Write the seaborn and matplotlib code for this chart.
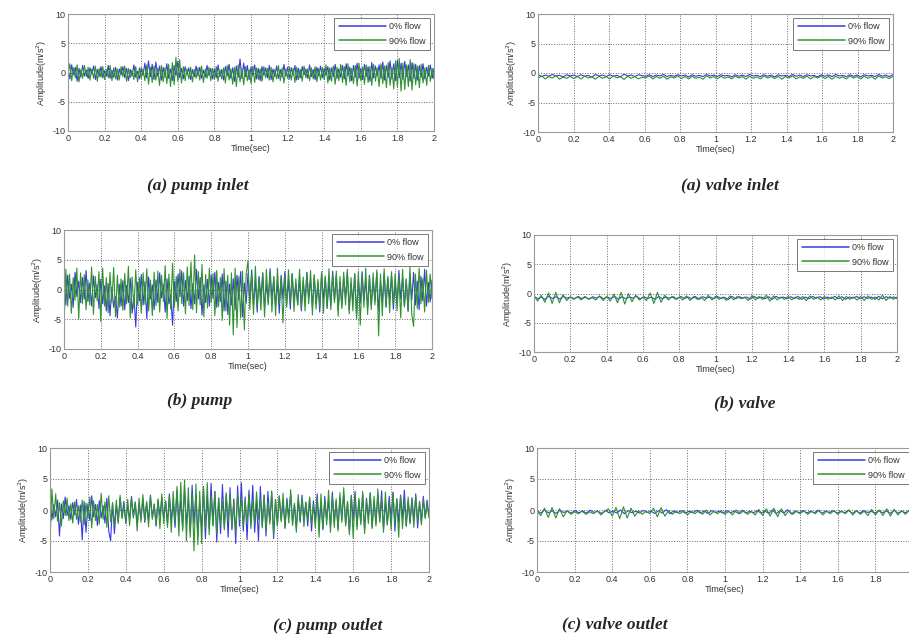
import numpy as np
import pandas as pd
import matplotlib
matplotlib.use("Agg")
import matplotlib.pyplot as plt
import seaborn as sns

series_labels = ["0% flow", "90% flow"]
series_colors = ["#3a3ae0", "#2f932f"]
panel_titles = ["(a) pump inlet", "(a) valve inlet", "(b) pump", "(b) valve",
                "(c) pump outlet", "(c) valve outlet"]

# Acceleration amplitudes (m/s^2), evenly sampled over 0-2 sec
pump_inlet_0 = [
    0.6, -1.1, 1.3, -0.4, 0.9, -1.5, 0.7, -0.8, 1.2, -0.6, 0.4,
    -1.0, 0.8, -0.3, 1.1, -1.2, 0.5, -0.7, 1.0, -0.9, 0.3,
    -0.6, 1.2, -1.0, 0.4, -0.8, 0.9, -1.3, 0.6, -0.4, 1.0,
    -0.9, 0.7, -1.4, 0.5, -0.6, 1.3, -0.8, 0.2, -1.1, 0.8,
    -0.5, 1.6, -0.9, 2.0, -0.7, 1.4, -1.2, 1.8, -0.6, 1.1,
    -1.3, 0.9, -0.8, 1.5, -1.0, 0.6, -1.4, 1.2, -0.5, 1.9,
    -0.9, 0.7, -1.1, 1.0, -0.4, 0.8, -1.2, 0.5, -0.7, 1.1,
    -0.6, 0.9, -1.0, 0.4, -0.8, 1.2, -0.5, 0.7, -1.1, 0.6,
    -0.9, 1.3, -0.7, 0.5, -1.3, 1.0, -0.6, 1.4, -1.0, 0.8,
    -1.5, 1.1, -0.8, 2.3, -1.0, 1.6, -0.7, 1.2, -1.2, 0.9,
    -0.6, 1.3, -1.1, 0.7, -1.4, 1.0, -0.5, 0.8, -0.9, 1.2,
    -1.2, 0.6, -0.7, 1.1, -1.0, 0.5, -0.8, 1.4, -0.6, 0.9,
    -1.1, 0.8, -0.5, 1.2, -1.3, 0.7, -0.9, 1.0, -0.4, 0.6,
    -1.0, 1.3, -0.7, 0.5, -1.2, 0.9, -0.6, 1.1, -0.9, 0.7,
    -0.5, 1.0, -1.3, 0.8, -0.7, 1.4, -1.0, 0.6, -0.8, 1.2,
    -1.1, 1.5, -0.6, 0.9, -1.4, 1.2, -0.8, 1.6, -1.0, 0.7,
    -1.2, 1.4, -0.7, 1.0, -1.5, 1.7, -0.9, 1.1, -0.6, 1.3,
    -1.0, 1.8, -1.3, 1.2, -0.8, 2.0, -1.1, 1.5, -1.4, 2.1,
    -0.9, 1.6, -1.2, 1.9, -0.7, 1.3, -1.5, 1.7, -1.0, 1.4,
    -1.3, 1.2, -0.8, 1.5, -1.1, 0.9, -0.6, 1.3, -1.0, 0.7,
]
pump_inlet_90 = [
    -0.4, 1.5, -1.4, 0.8, -0.9, 1.3, -1.6, 0.5, -1.0, 1.2, -0.7,
    0.9, -1.3, 0.6, -1.0, 1.1, -1.5, 0.7, -0.8, 1.0, -1.2,
    0.5, -0.9, 1.2, -1.4, 0.8, -1.1, 0.6, -1.3, 1.0, -0.7,
    1.1, -1.5, 0.7, -0.9, 0.4, -1.2, 1.0, -1.6, 0.8, -1.0,
    0.6, -1.4, 1.3, -2.0, 0.9, -1.7, 1.1, -1.3, 0.7, -2.2,
    1.2, -1.6, 0.8, -1.9, 1.4, -2.4, 1.7, -2.1, 2.6, -1.5,
    2.2, -1.8, 1.0, -1.4, 0.6, -1.1, 0.9, -1.6, 0.5, -1.0,
    0.8, -1.3, 1.1, -1.7, 0.6, -1.0, 0.9, -1.4, 0.7, -1.2,
    1.0, -1.5, 0.5, -1.1, 0.8, -1.8, 1.2, -1.3, 0.6, -2.0,
    0.9, -2.4, 1.3, -1.6, 0.7, -2.1, 1.0, -1.4, 0.5, -1.9,
    1.1, -1.7, 0.8, -1.2, 0.6, -1.5, 1.0, -0.9, 0.7, -1.3,
    0.9, -1.6, 0.5, -1.1, 1.2, -1.4, 0.8, -1.8, 0.6, -1.0,
    1.0, -1.3, 0.7, -1.7, 0.9, -1.2, 0.5, -1.5, 1.1, -0.9,
    0.6, -1.4, 0.8, -1.1, 1.0, -1.6, 0.7, -1.3, 0.9, -1.2,
    1.3, -1.8, 0.8, -1.5, 1.1, -2.0, 0.9, -1.4, 1.4, -1.7,
    1.0, -2.2, 1.5, -1.6, 0.7, -1.9, 1.2, -2.3, 1.6, -1.4,
    0.9, -2.0, 1.3, -1.7, 1.0, -2.2, 1.4, -1.5, 0.8, -2.4,
    1.5, -1.9, 1.1, -2.6, 1.7, -2.2, 0.9, -2.8, 2.0, -2.5,
    2.4, -3.2, 1.6, -2.9, 1.3, -2.4, 2.2, -3.0, 1.5, -2.1,
    1.1, -2.6, 1.4, -1.8, 0.8, -2.2, 1.2, -1.5, 0.7, -1.1,
]
valve_inlet_0 = [
    -0.3, -0.6, -0.35, -0.55, -0.25, -0.5, -0.4, -0.65, -0.3, -0.5, -0.35,
    -0.6, -0.3, -0.55, -0.4, -0.7, -0.25, -0.5, -0.35, -0.6,
    -0.3, -0.55, -0.4, -0.65, -0.2, -0.5, -0.35, -0.6, -0.3, -0.45,
    -0.55, -0.3, -0.6, -0.35, -0.5, -0.25, -0.6, -0.4, -0.55, -0.3,
    -0.5, -0.35, -0.65, -0.3, -0.55, -0.4, -0.6, -0.25, -0.5, -0.35,
    -0.6, -0.3, -0.5, -0.4, -0.65, -0.3, -0.55, -0.35, -0.6, -0.25,
    -0.5, -0.4, -0.6, -0.3, -0.55, -0.35, -0.65, -0.3, -0.5, -0.4,
    -0.6, -0.25, -0.55, -0.35, -0.6, -0.3, -0.5, -0.4, -0.65, -0.3,
    -0.55, -0.35, -0.6, -0.25, -0.5, -0.4, -0.6, -0.3, -0.55, -0.35,
    -0.65, -0.3, -0.5, -0.4, -0.6, -0.25, -0.55, -0.35, -0.6, -0.3,
]
valve_inlet_90 = [
    -0.9, -0.5, -1.0, -0.6, -0.85, -0.45, -1.05, -0.7, -0.9, -0.55, -0.95,
    -0.6, -1.0, -0.5, -0.85, -0.65, -1.05, -0.55, -0.9, -0.6,
    -1.0, -0.5, -0.8, -0.65, -1.1, -0.55, -0.9, -0.6, -1.0, -0.7,
    -0.85, -0.5, -1.0, -0.6, -0.9, -0.55, -1.05, -0.65, -0.85, -0.5,
    -0.95, -0.6, -1.0, -0.55, -0.9, -0.7, -1.05, -0.5, -0.85, -0.6,
    -1.0, -0.55, -0.9, -0.65, -1.0, -0.5, -0.85, -0.6, -1.05, -0.55,
    -0.9, -0.65, -1.0, -0.5, -0.85, -0.6, -0.95, -0.55, -1.05, -0.6,
    -0.85, -0.5, -1.0, -0.65, -0.9, -0.55, -1.0, -0.6, -0.85, -0.5,
    -0.95, -0.6, -1.05, -0.55, -0.9, -0.65, -1.0, -0.5, -0.85, -0.6,
    -1.0, -0.55, -0.9, -0.6, -1.05, -0.5, -0.85, -0.65, -0.95, -0.55,
]
pump_0 = [
    1.8, -2.6, 2.4, -1.5, 0.9, -3.0, 2.9, -1.2, 1.4, -2.2, 2.0,
    -1.6, 3.2, -2.0, 1.1, -2.8, 2.3, -1.4, 0.8, -3.2, 1.7,
    -2.4, 0.6, -3.6, 1.0, -4.4, 0.4, -3.0, -1.2, -4.8, 0.9,
    -2.8, 1.5, -3.4, 0.7, -2.2, 1.9, -4.0, -1.0, -6.3, 1.2,
    -1.9, 2.5, -2.6, 1.3, -4.9, 2.1, -1.6, 0.8, -3.4, 1.6,
    -2.2, 2.8, -1.4, 0.9, -3.8, 1.8, -2.4, -0.8, -6.0, 1.4,
    -2.0, 2.6, -1.2, 3.1, -2.8, 1.5, -1.9, 2.2, -3.2, 1.0,
    -2.4, 3.4, -1.6, 2.0, -4.3, 0.8, -2.2, 1.7, -2.8, 2.4,
    -1.5, 2.9, -3.0, 1.2, -2.0, 2.6, -3.6, 1.4, -4.2, 0.9,
    -2.6, 1.8, -3.4, 2.4, -1.8, 3.0, -4.6, 1.1, -2.3, 2.7,
    -1.9, 3.3, -2.7, 1.5, -3.8, 2.2, -1.4, 2.8, -3.1, 1.0,
    -2.2, 3.5, -1.7, 2.0, -2.9, 1.3, -4.0, 2.4, -1.6, 3.0,
    -2.5, 1.6, -3.3, 2.7, -1.8, 0.9, -2.6, 2.1, -3.6, 1.4,
    -2.0, 2.9, -1.5, 1.8, -3.0, 2.3, -2.4, 1.1, -3.8, 2.6,
    -1.7, 2.0, -3.2, 1.4, -2.6, 3.1, -1.9, 2.4, -3.4, 1.2,
    -2.8, 2.2, -1.6, 2.9, -3.5, 1.0, -2.1, 2.6, -4.4, 1.7,
    -2.3, 3.0, -1.8, 1.6, -3.2, 2.4, -2.7, 1.3, -1.9, 2.8,
    -3.6, 1.5, -2.2, 2.7, -3.0, 1.9, -1.7, 2.3, -3.3, 1.1,
    -2.4, 3.2, -1.6, 2.0, -2.9, 1.6, -3.7, 2.5, -1.8, 2.9,
    -2.6, 1.4, -3.4, 2.2, -1.9, 3.4, -2.8, 1.2, -2.1, 1.6,
]
pump_90 = [
    -6.2, 3.4, -2.8, 2.6, -4.0, 2.0, -1.8, 3.6, -5.0, 2.8, -2.4,
    2.5, -3.4, 1.6, -2.6, 3.8, -4.2, 2.2, -1.9, 3.0, -5.4,
    3.6, -2.8, 2.0, -3.9, 2.9, -2.2, 3.7, -4.6, 2.4, -3.0,
    1.8, -3.5, 2.7, -2.4, 3.9, -4.8, 2.1, -3.2, 3.3, -2.6,
    2.0, -4.0, 2.8, -2.5, 3.5, -3.6, 1.6, -4.4, 2.9, -2.7,
    3.1, -3.8, 2.4, -2.0, 4.0, -4.9, 2.6, -3.3, 4.4, -2.9,
    2.2, -3.6, 3.4, -2.4, 2.8, -4.1, 3.8, -2.7, 4.6, -3.4,
    5.8, -3.9, 3.0, -2.6, 4.2, -4.6, 2.5, -3.1, 3.6, -2.2,
    2.7, -4.4, 3.2, -2.9, 2.0, -5.2, 3.5, -3.6, 2.4, -6.0,
    2.8, -7.6, 3.6, -6.4, 2.2, -4.8, 3.1, -6.8, 2.6, 4.8,
    -3.4, 2.6, -4.2, 3.9, -2.8, 1.9, -3.5, 2.8, -4.6, 3.4,
    -2.6, 3.0, -3.8, 2.2, -4.4, 3.6, -2.4, 2.0, -5.6, 2.5,
    -3.0, 3.3, -2.2, 2.6, -3.7, 1.8, -2.6, 3.4, -3.1, 2.1,
    -3.6, 2.8, -2.4, 3.2, -4.3, 2.5, -3.3, 1.7, -2.8, 3.0,
    -4.0, 2.3, -2.9, 3.5, -3.4, 2.6, -2.2, 3.1, -4.5, 2.2,
    -3.2, 2.9, -2.6, 3.4, -4.1, 2.0, -3.6, 2.7, -5.0, 3.0,
    -6.0, 2.4, -3.0, 3.6, -4.2, 2.1, -3.4, 2.8, -2.6, 3.3,
    -7.8, 2.6, -4.4, 3.5, -2.8, 2.2, -3.9, 3.0, -2.4, 2.7,
    -3.6, 2.4, -4.8, 3.4, -2.9, 1.8, -3.5, 3.8, -4.2, -6.2,
    2.6, -3.2, 3.6, -2.4, 1.9, -3.8, 3.2, -2.2, 2.6, -1.6,
]
valve_0 = [
    -0.5, -0.9, -0.6, -1.0, -0.45, -0.85, -0.55, -0.95, -0.5, -0.8, -0.6,
    -0.9, -0.5, -0.85, -0.65, -1.0, -0.55, -0.8, -0.5, -0.9,
    -0.6, -0.85, -0.5, -1.0, -0.55, -0.9, -0.6, -0.8, -0.45, -0.95,
    -0.55, -0.85, -0.6, -1.0, -0.5, -0.9, -0.6, -0.8, -0.55, -0.95,
    -0.5, -0.85, -0.6, -0.9, -0.5, -1.0, -0.55, -0.8, -0.6, -0.9,
    -0.5, -0.85, -0.65, -1.0, -0.5, -0.9, -0.55, -0.8, -0.6, -0.95,
    -0.5, -0.85, -0.6, -0.9, -0.55, -1.0, -0.5, -0.8, -0.6, -0.9,
    -0.55, -0.85, -0.5, -1.0, -0.6, -0.9, -0.5, -0.8, -0.55, -0.95,
    -0.6, -0.85, -0.5, -0.9, -0.55, -1.0, -0.6, -0.8, -0.5, -0.9,
    -0.55, -0.85, -0.6, -1.0, -0.5, -0.9, -0.55, -0.8, -0.6, -0.85,
]
valve_90 = [
    -0.4, -1.3, -0.3, -1.5, 0.1, -1.7, 0.2, -1.6, -0.2, -1.2, -0.6,
    -1.0, -0.6, -1.1, -0.5, -0.9, -0.7, -1.1, -0.4, -1.2, -0.5,
    -1.3, -0.1, -1.6, 0.2, -1.8, 0.0, -1.4, -0.3, -1.1, -0.6,
    -1.2, 0.1, -1.7, 0.2, -1.5, -0.3, -1.1, -0.5, -1.0, -0.6,
    -1.1, -0.4, -1.2, -0.5, -1.0, -0.6, -1.2, -0.3, -1.1, -0.5,
    -1.0, -0.6, -1.2, -0.4, -1.1, -0.5, -0.9, -0.6, -1.2, -0.4,
    -1.1, -0.5, -1.0, -0.3, -1.3, -0.4, -1.1, -0.6, -1.0, -0.5,
    -1.1, -0.6, -1.0, -0.5, -1.2, -0.4, -1.0, -0.6, -1.1, -0.5,
    -1.0, -0.6, -1.1, -0.4, -1.2, -0.5, -1.0, -0.6, -1.1, -0.5,
    -1.2, -0.4, -1.0, -0.6, -1.1, -0.3, -1.2, -0.5, -1.0, -0.6,
]
pump_outlet_0 = [
    1.3, -1.6, 0.9, -1.1, 1.6, -4.2, 1.0, -1.4, 2.1, -0.9, 0.7,
    -1.5, 1.2, -0.8, 1.7, -2.3, 0.8, -4.8, 1.4, -3.6, 1.0,
    -1.7, 2.3, -1.1, 0.9, -2.5, 1.5, -1.3, 0.7, -2.1, 1.9,
    -3.4, -5.0, 1.2, -3.8, 0.8, -1.9, 2.0, -1.2, 1.4, -2.2,
    0.9, -1.6, 2.2, -1.0, 1.3, -2.4, 0.8, -1.4, 1.8, -2.0,
    1.1, -1.7, 2.4, -1.2, 0.9, -2.6, 1.6, -1.0, 2.0, -1.5,
    1.4, -2.2, 2.6, -1.6, 1.0, -2.8, 3.2, -2.0, 1.5, -3.0,
    3.6, -2.4, 1.8, -3.6, 4.0, -2.2, 2.6, -4.2, 1.4, -3.0,
    3.4, -4.6, 2.2, -3.0, 4.3, -2.4, 3.0, -5.2, 1.9, -3.8,
    4.1, -2.8, 2.5, -4.4, 3.6, -3.2, 1.8, -5.4, 3.9, -2.6,
    4.4, -3.4, 2.1, -4.8, 3.2, -2.2, 4.0, -3.6, 1.6, -5.0,
    3.8, -2.6, 2.4, -4.2, 3.0, -1.8, 2.8, -4.6, 1.7, -2.4,
    2.2, -1.6, 1.3, -2.8, 1.9, -1.2, 2.6, -2.2, 1.0, -3.0,
    1.8, -2.0, 2.4, -1.4, 1.2, -2.6, 2.0, -3.4, 1.5, -1.8,
    2.6, -2.2, 1.1, -3.2, 2.2, -1.6, 1.7, -2.8, 2.9, -1.9,
    1.4, -3.0, 2.0, -1.5, 2.7, -2.4, 1.3, -3.6, 2.3, -1.7,
    3.0, -2.6, 1.6, -2.0, 2.5, -3.2, 1.9, -1.4, 2.8, -2.8,
    1.5, -2.2, 2.6, -1.8, 3.1, -3.0, 1.2, -2.4, 2.2, -1.6,
    2.9, -3.4, 1.8, -2.0, 2.4, -1.3, 3.2, -2.6, 1.5, -2.2,
    2.0, -1.7, 2.6, -2.9, 1.4, -1.9, 2.2, -1.2, 1.6, -1.0,
]
pump_outlet_90 = [
    -5.2, 3.4, -1.4, 2.6, -1.8, 1.2, -2.6, 1.5, -0.9, 1.9, -1.7,
    1.0, -2.1, 1.3, -1.5, 0.7, -1.9, 1.6, -2.4, 1.1, -1.3,
    2.1, -2.9, 1.5, -1.7, 0.9, -2.3, 2.7, -1.5, 1.3, -2.8,
    2.3, -1.9, 1.1, -2.6, 1.6, -2.2, 2.4, -1.4, 0.8, -2.0,
    1.7, -2.5, 2.0, -1.3, 1.2, -3.4, 1.9, -2.0, 2.5, -1.6,
    1.4, -2.7, 2.2, -1.5, 1.0, -2.4, 1.8, -3.0, 2.6, -2.2,
    1.5, -2.8, 2.3, -3.6, 3.0, -2.0, 3.8, -4.2, 4.5, -3.4,
    4.8, -5.0, 3.6, -4.4, 2.6, -6.6, 4.2, -5.6, 3.0, -5.4,
    3.8, -3.0, 4.4, -4.0, 2.2, -2.6, 3.0, -3.8, 2.0, -2.4,
    1.6, -3.2, 2.8, -1.8, 2.4, -2.8, 1.4, -3.6, 2.6, -1.6,
    2.0, -2.6, 1.4, -2.0, 2.6, -3.0, 1.7, -2.2, 2.9, -1.5,
    1.9, -2.9, 2.4, -3.4, 1.3, -2.3, 3.1, -4.0, 1.7, -2.6,
    2.3, -1.9, 2.7, -3.0, 1.5, -2.1, 3.3, -2.5, 1.1, -3.6,
    2.5, -1.7, 1.9, -2.7, 1.3, -1.5, 2.1, -2.3, 0.9, -2.9,
    2.0, -4.4, 2.6, -3.0, 1.6, -2.4, 3.2, -3.6, 2.2, -2.8,
    1.8, -3.4, 2.8, -2.0, 3.6, -2.6, 1.4, -4.0, 2.4, -4.6,
    2.6, -3.2, 1.9, -2.4, 3.0, -3.8, 1.6, -2.2, 2.7, -3.0,
    2.2, -2.6, 3.4, -2.0, 1.7, -3.6, 2.9, -2.4, 1.3, -3.2,
    2.8, -2.2, 1.8, -4.4, 2.4, -3.0, 1.5, -2.6, 2.1, -1.9,
    1.6, -2.8, 2.2, -1.7, 1.2, -2.4, 1.8, -1.4, 1.0, -1.3,
]
valve_outlet_0 = [
    -0.1, -0.5, 0.0, -0.45, -0.15, -0.55, -0.05, -0.4, -0.2, -0.5, -0.1,
    -0.45, -0.15, -0.5, -0.05, -0.4, -0.2, -0.55, -0.1, -0.45,
    -0.15, -0.5, 0.0, -0.6, -0.1, -0.45, -0.2, -0.5, -0.05, -0.4,
    -0.2, -0.55, -0.1, -0.5, 0.05, -0.6, -0.15, -0.45, -0.1, -0.5,
    -0.2, -0.45, -0.05, -0.5, -0.15, -0.55, -0.1, -0.4, -0.2, -0.5,
    -0.1, -0.45, -0.15, -0.55, -0.05, -0.5, -0.2, -0.45, -0.1, -0.5,
    -0.15, -0.55, 0.0, -0.6, -0.1, -0.5, 0.05, -0.65, -0.15, -0.45,
    -0.1, -0.5, -0.2, -0.45, -0.05, -0.55, -0.15, -0.4, -0.1, -0.5,
    -0.2, -0.45, -0.05, -0.55, -0.15, -0.5, -0.1, -0.4, -0.2, -0.5,
    -0.1, -0.45, -0.15, -0.55, -0.05, -0.5, -0.2, -0.45, -0.1, -0.4,
]
valve_outlet_90 = [
    -0.2, -0.9, 0.3, -1.2, 0.4, -1.3, 0.2, -1.1, -0.1, -0.7, -0.3,
    -0.6, -0.2, -0.7, -0.3, -0.6, -0.1, -0.8, -0.2, 0.2, -1.0,
    0.4, -1.4, 0.5, -1.3, 0.3, -1.0, -0.1, -0.7, -0.2, -0.6,
    0.3, -1.1, 0.4, -1.0, -0.1, -0.7, -0.2, -0.6, -0.1, -0.8,
    -0.2, -0.6, -0.1, -0.7, 0.0, -0.8, -0.2, -0.6, -0.1, -0.7,
    -0.2, -0.8, 0.0, -0.6, -0.1, -0.7, -0.2, -0.8, 0.1, -0.9,
    0.2, -1.0, 0.3, -1.1, 0.2, -0.9, -0.1, -0.7, -0.2, -0.6,
    -0.1, -0.7, -0.2, -0.6, 0.0, -0.8, -0.2, -0.6, -0.1, -0.7,
    -0.2, -0.6, 0.0, -0.8, -0.1, -0.7, -0.2, -0.9, 0.1, -0.8,
    0.0, -0.9, 0.2, -1.0, 0.1, -0.8, -0.1, -0.7, 0.0, -0.6,
]

x_ticks = [0, 0.2, 0.4, 0.6, 0.8, 1.0, 1.2, 1.4, 1.6, 1.8, 2.0]
x_tick_labels = ["0", "0.2", "0.4", "0.6", "0.8", "1", "1.2", "1.4", "1.6", "1.8", "2"]
y_ticks = [-10, -5, 0, 5, 10]
y_tick_labels = ["-10", "-5", "0", "5", "10"]

panels = [
    (pump_inlet_0, pump_inlet_90),
    (valve_inlet_0, valve_inlet_90),
    (pump_0, pump_90),
    (valve_0, valve_90),
    (pump_outlet_0, pump_outlet_90),
    (valve_outlet_0, valve_outlet_90),
]

# Panel boxes in pixels: left, right, top, bottom; and caption centres
W, H = 909, 639
boxes = [
    (68, 434, 14, 131), (538, 893, 14, 132),
    (64, 432, 230, 349), (534, 897, 235, 352),
    (50, 429, 448, 572), (537, 913, 448, 572),
]
captions = [(198, 186), (730, 185), (200, 401), (745, 403), (328, 626), (615, 624)]

sns.set_style("white")
plt.rcParams["font.family"] = ["Liberation Sans", "DejaVu Sans"]


def series_frame(values):
    vals = np.asarray(values, dtype=float)
    return pd.DataFrame({"t": np.linspace(0.0, 2.0, len(vals)), "a": vals})


fig = plt.figure(figsize=(W / 100, H / 100), dpi=100)

for series, (l, r, t, b), (cx, cy), title in zip(panels, boxes, captions, panel_titles):
    ax = fig.add_axes([l / W, 1 - b / H, (r - l) / W, (b - t) / H])
    handles = []
    for values, label, color in zip(series, series_labels, series_colors):
        sns.lineplot(data=series_frame(values), x="t", y="a", color=color,
                     estimator=None, sort=False, linewidth=0.8, ax=ax)
        handles.append(ax.get_lines()[-1])
    ax.set_xlim(0, 2)
    ax.set_ylim(-10, 10)
    ax.set_xticks(x_ticks)
    labels = list(x_tick_labels)
    if r > W:
        # the right end of this panel runs past the page edge
        labels[-1] = ""
    ax.set_xticklabels(labels)
    ax.set_yticks(y_ticks)
    ax.set_yticklabels(y_tick_labels)
    ax.tick_params(direction="in", length=2, width=0.5, labelsize=6.5,
                   colors="#555555", labelcolor="#333333", pad=2)
    ax.grid(True, linestyle=":", linewidth=0.7, color="#666666")
    for s in ax.spines.values():
        s.set_color("#999999")
        s.set_linewidth(0.8)
    ax.set_xlabel("Time(sec)", fontsize=6.5, color="#333333", labelpad=1)
    ax.set_ylabel("Amplitude(m/s$^2$)", fontsize=6.5, color="#333333", labelpad=2)
    leg = ax.legend(handles=handles, labels=series_labels,
                    loc="upper right", fontsize=6.5, handlelength=5.2,
                    frameon=True, fancybox=False, borderaxespad=0.4,
                    borderpad=0.5, labelspacing=0.6, handletextpad=0.4)
    leg.get_frame().set_edgecolor("#555555")
    leg.get_frame().set_linewidth(0.7)
    for hl, color in zip(leg.get_lines(), series_colors):
        hl.set_color(color)
        hl.set_linewidth(1.1)
    for txt in leg.get_texts():
        txt.set_color("#333333")
    fig.text(cx / W, 1 - cy / H, title, ha="center", va="center",
             family=["Liberation Serif", "DejaVu Serif"], weight="bold",
             style="italic", fontsize=12.5)

fig.savefig("out.png", dpi=100)
